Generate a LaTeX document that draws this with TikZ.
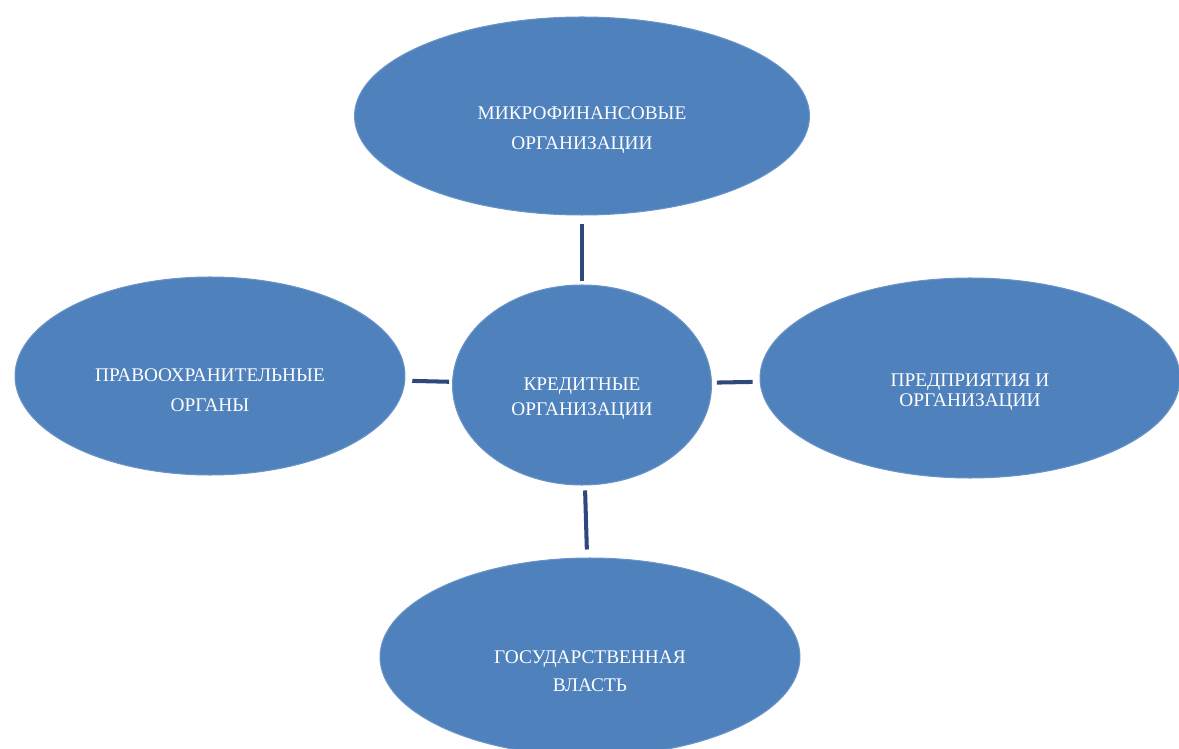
\documentclass[tikz,border=0pt]{standalone}
\usepackage{fontspec}
\setmainfont{Liberation Serif}
\usetikzlibrary{shapes.geometric}

\definecolor{ovalblue}{RGB}{79,129,189}
\definecolor{linknavy}{RGB}{46,72,124}

\tikzset{
  oval/.style={ellipse, fill=ovalblue, draw=ovalblue!85!white, line width=0.6pt, inner sep=0pt},
  caption/.style={text=white, align=center, yshift=-0.28cm},
  link/.style={draw=linknavy, line width=2.3pt}
}

\begin{document}
\begin{tikzpicture}[x=0.02cm,y=-0.02cm]
\useasboundingbox (0,0) rectangle (1179,749);

\node[oval, minimum width=9.1cm, minimum height=3.96cm,
  label={[caption, font=\fontsize{11}{17}\selectfont]center:МИКРОФИНАНСОВЫЕ\\ОРГАНИЗАЦИИ}]
  (micro) at (582,116) {};

\node[oval, minimum width=7.8cm, minimum height=3.96cm,
  label={[caption, font=\fontsize{11}{17}\selectfont]center:ПРАВООХРАНИТЕЛЬНЫЕ\\ОРГАНЫ}]
  (law) at (210,376) {};

\node[oval, minimum width=5.18cm, minimum height=4cm,
  label={[caption, font=\fontsize{11}{14}\selectfont]center:КРЕДИТНЫЕ\\ОРГАНИЗАЦИИ}]
  (credit) at (582,385) {};

\node[oval, minimum width=8.4cm, minimum height=4cm,
  label={[caption, font=\fontsize{11}{11.5}\selectfont]center:ПРЕДПРИЯТИЯ И\\ОРГАНИЗАЦИИ}]
  (firms) at (970,378) {};

\node[oval, minimum width=8.4cm, minimum height=3.96cm,
  label={[caption, font=\fontsize{11}{16}\selectfont]center:ГОСУДАРСТВЕННАЯ\\ВЛАСТЬ}]
  (state) at (590,657) {};

% links
\draw[link, shorten <=0.06cm, shorten >=0.16cm] (credit) -- (micro);
\draw[link, shorten <=0.06cm, shorten >=0.14cm] (credit) -- (law);
\draw[link, shorten <=0.1cm, shorten >=0.14cm] (credit) -- (firms);
\draw[link, shorten <=0.1cm, shorten >=0.16cm] (credit) -- (state);
\end{tikzpicture}
\end{document}
